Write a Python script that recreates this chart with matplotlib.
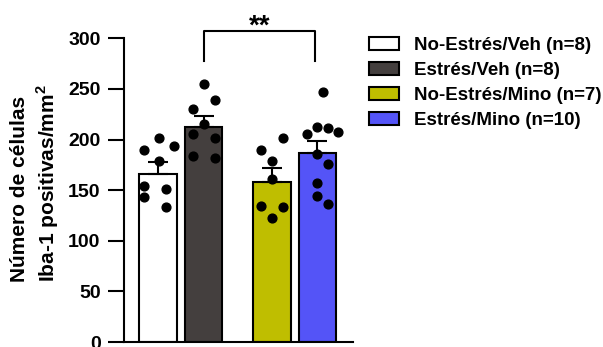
import matplotlib.pyplot as plt
from matplotlib.patches import Patch

plt.rcParams['font.family'] = ['Liberation Sans', 'DejaVu Sans']
plt.rcParams['font.weight'] = 'bold'
plt.rcParams['mathtext.fontset'] = 'custom'
plt.rcParams['mathtext.bf'] = 'Liberation Sans:bold'
plt.rcParams['mathtext.rm'] = 'Liberation Sans:bold'

# group data
groups = ['No-Estrés/Veh (n=8)', 'Estrés/Veh (n=8)', 'No-Estrés/Mino (n=7)', 'Estrés/Mino (n=10)']
means = [165.8, 212.6, 157.6, 186.3]
sem = [11.9, 10.6, 14.4, 12.2]
colors = ['#ffffff', '#443f3e', '#bfbe00', '#5454f7']

pts_noestres_veh = [190, 202, 194, 179, 154, 151, 143, 133.5]
pts_estres_veh = [255, 239, 230, 215, 205, 202, 184, 182]
pts_noestres_mino = [190, 202, 179, 161, 134.5, 133.5, 122.6]
pts_estres_mino = [246.6, 205, 212.6, 211, 207.4, 185.6, 175.7, 156.6, 144.4, 136.8]
points = [pts_noestres_veh, pts_estres_veh, pts_noestres_mino, pts_estres_mino]

# horizontal offsets of the dots inside each bar
offs_noestres_veh = [-0.37, 0.03, 0.41, 0.03, -0.37, 0.21, -0.37, 0.21]
offs_estres_veh = [0.0, 0.29, -0.29, 0.0, -0.29, 0.29, -0.29, 0.29]
offs_noestres_mino = [-0.29, 0.29, 0.0, 0.0, -0.29, 0.29, 0.0]
offs_estres_mino = [0.15, -0.29, 0.0, 0.29, 0.56, 0.0, 0.29, 0.0, 0.0, 0.29]
offsets = [offs_noestres_veh, offs_estres_veh, offs_noestres_mino, offs_estres_mino]

x = [0.907, 2.12, 3.944, 5.157]

fig = plt.figure(figsize=(6.03, 3.47), dpi=100)
ax = fig.add_axes([0.206, 0.0144, 0.379, 0.8752])

ax.bar(x, means, width=1.0, color=colors, edgecolor='black', linewidth=1.5, zorder=2)
ax.errorbar(x, means, yerr=[[0] * 4, sem], fmt='none', ecolor='black',
            elinewidth=1.5, capsize=7.5, capthick=1.5, zorder=3)
for xi, vals, offs in zip(x, points, offsets):
    ax.scatter([xi + o for o in offs], vals, s=40, color='black', zorder=4, clip_on=False)

# significance bracket
y_leg, y_top = 278, 307.5
ax.plot([x[1], x[1], x[3] - 0.07, x[3] - 0.07], [y_leg, y_top, y_top, y_leg],
        color='black', lw=1.5, clip_on=False)
ax.text((x[1] + x[3] - 0.07) / 2, 305, '**', ha='center', va='baseline', fontsize=20,
        fontweight='bold')

ax.set_xlim(0, 6.1)
ax.set_ylim(0, 300)
ax.set_yticks([0, 50, 100, 150, 200, 250, 300])
ax.set_xticks([])
ax.spines['top'].set_visible(False)
ax.spines['right'].set_visible(False)
ax.spines['left'].set_linewidth(1.5)
ax.spines['bottom'].set_linewidth(1.5)
ax.tick_params(axis='y', length=11.5, width=1.5, labelsize=14, pad=5.5)

fig.text(61 / 603, 65 / 347, 'Número de células\nIba-1 positivas/mm$^{\\mathbf{2}}$',
         rotation=90, rotation_mode='anchor', ha='left', va='bottom',
         multialignment='left', fontsize=15, fontweight='bold', linespacing=1.25)

handles = [Patch(facecolor=c, edgecolor='black', linewidth=1.5) for c in colors]
fig.legend(handles, groups, loc='upper left', bbox_to_anchor=(369 / 603, 1 - 37 / 347),
           frameon=False, handlelength=1.6, handleheight=0.7,
           handletextpad=0.8, labelspacing=0.42, borderaxespad=0, borderpad=0,
           prop={'weight': 'bold', 'size': 13.5})

fig.savefig('out.png', dpi=100)
